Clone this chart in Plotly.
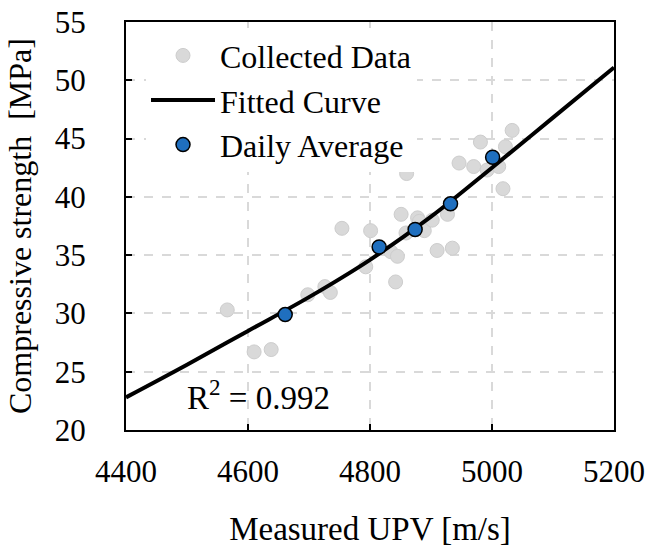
import plotly.graph_objects as go

# Collected data (UPV m/s, strength MPa)
collected_x = [4566, 4610, 4638, 4698, 4726, 4735, 4754, 4793, 4801, 4834, 4845, 4842,
               4851, 4859, 4860, 4878, 4881, 4889, 4902, 4910, 4927, 4935, 4946, 4970,
               4981, 4992, 5011, 5022, 5033, 5018]
collected_y = [30.3, 26.7, 26.9, 31.6, 32.3, 31.8, 37.3, 34.0, 37.1, 35.3, 34.9, 32.7,
               38.5, 36.9, 42.0, 38.2, 37.9, 37.1, 38.0, 35.4, 38.5, 35.6, 42.9, 42.6,
               44.7, 42.3, 42.6, 44.3, 45.7, 40.7]

# Fitted curve
curve_x = [4400, 4500, 4600, 4700, 4800, 4900, 5000, 5100, 5200]
curve_y = [22.8, 25.6, 28.5, 31.4, 34.6, 38.3, 42.5, 46.8, 51.1]

# Daily averages
daily_x = [4661, 4815, 4874, 4932, 5001]
daily_y = [29.9, 35.7, 37.2, 39.4, 43.4]

x_ticks = [4400, 4600, 4800, 5000, 5200]
y_ticks = [20, 25, 30, 35, 40, 45, 50, 55]

FONT = "Liberation Serif, Times New Roman, serif"

fig = go.Figure()
fig.add_trace(go.Scatter(
    x=collected_x, y=collected_y, mode="markers", name="Collected Data",
    legendgroup="a",
    marker=dict(size=14, color="#d9d9d9", line=dict(color="#cdcdcd", width=1))))
fig.add_trace(go.Scatter(
    x=curve_x, y=curve_y, mode="lines", name="Fitted Curve", legendgroup="b",
    line=dict(color="black", width=4, shape="spline")))
fig.add_trace(go.Scatter(
    x=daily_x, y=daily_y, mode="markers", name="Daily Average", legendgroup="c",
    marker=dict(size=14, color="#1f6fbf", line=dict(color="black", width=1.5))))

axis_common = dict(
    showline=True, linecolor="black", linewidth=2, mirror=True,
    ticks="inside", ticklen=6, tickwidth=2, tickcolor="black",
    showgrid=True, gridcolor="#d9d9d9", gridwidth=1.5, griddash="dash",
    zeroline=False, automargin=False,
    tickfont=dict(family=FONT, size=31, color="black"),
)

fig.update_xaxes(
    range=[4400, 5200], tickvals=x_ticks, ticklabelstandoff=13,
    title=dict(text="Measured UPV [m/s]", font=dict(family=FONT, size=33, color="black"),
               standoff=29),
    **axis_common)
fig.update_yaxes(
    range=[20, 55], tickvals=y_ticks, ticklabelstandoff=32,
    title=dict(text="Compressive strength \u00a0[MPa]",
               font=dict(family=FONT, size=32, color="black"), standoff=14),
    **axis_common)

fig.add_annotation(
    x=4497, y=23.0, xref="x", yref="y", xanchor="left", yanchor="middle",
    text="R<sup>2</sup> = 0.992", showarrow=False,
    font=dict(family=FONT, size=33, color="black"))

fig.update_layout(
    width=649, height=548,
    margin=dict(l=126, r=35, t=22, b=118, autoexpand=False),
    paper_bgcolor="white", plot_bgcolor="white",
    showlegend=True,
    legend=dict(x=0.041, y=0.985, xanchor="left", yanchor="top",
                bgcolor="white", borderwidth=0, tracegroupgap=0, itemwidth=64,
                font=dict(family=FONT, size=32, color="black")),
    font=dict(family=FONT, color="black"),
)

fig.write_html("out.html")
